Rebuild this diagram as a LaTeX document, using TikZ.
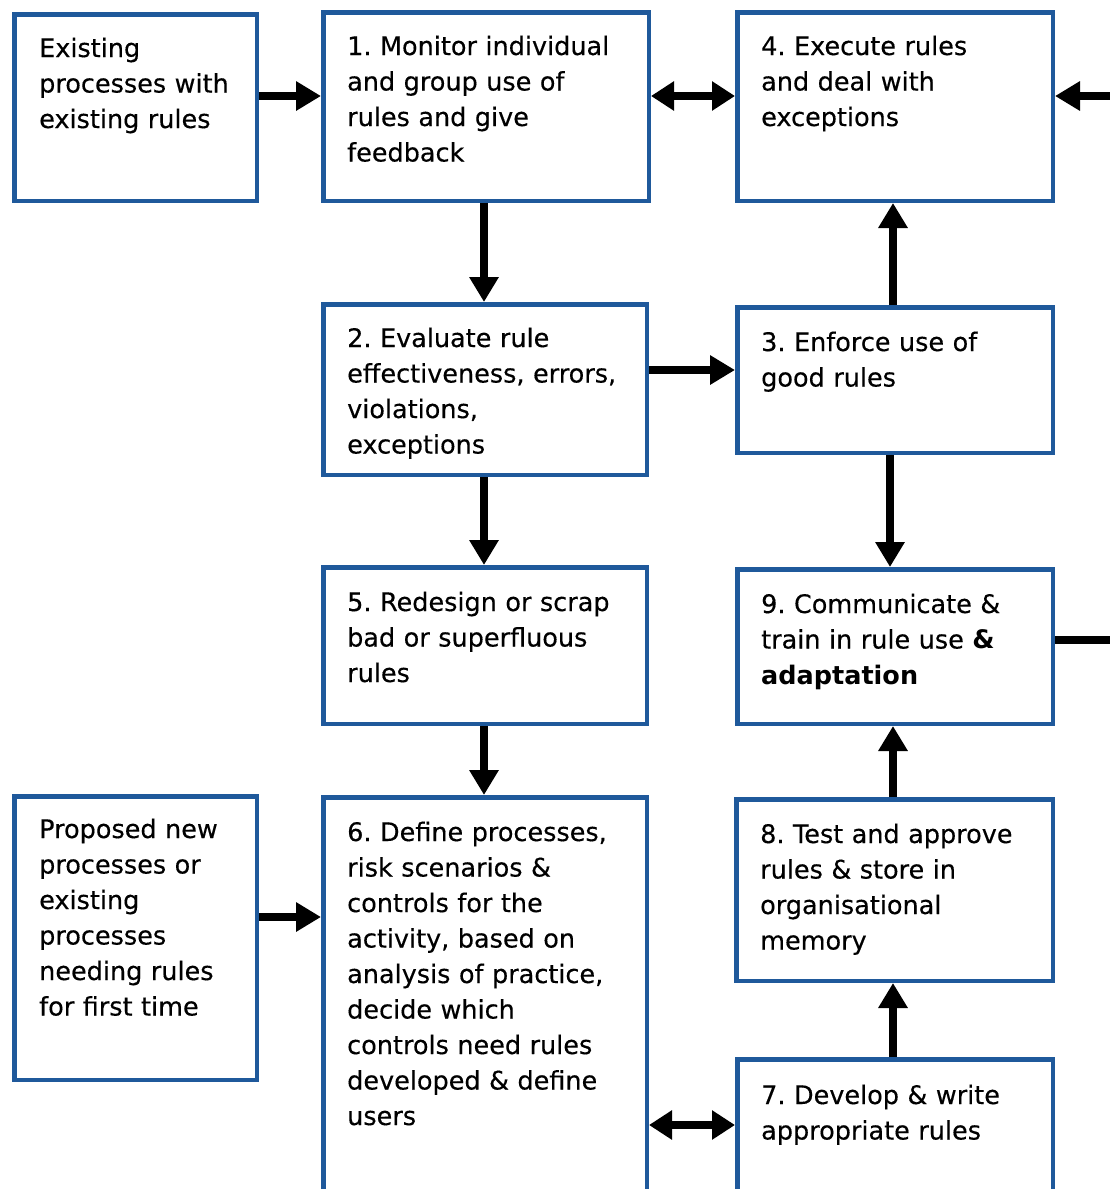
\documentclass[tikz,border=0pt]{standalone}
\usepackage{fontspec}
\setmainfont{DejaVu Sans}[UprightFeatures={FakeBold=0.35}]
\usetikzlibrary{arrows.meta}
\definecolor{boxblue}{RGB}{31,89,155}
\begin{document}
\frenchspacing
\begin{tikzpicture}[x=1pt,y=-1pt,
  box/.style={draw=boxblue, line width=4.5pt, fill=white, rectangle, anchor=north west, inner sep=0pt},
  txt/.style={anchor=base west, inner sep=0pt, text width=320pt, align=left, font=\fontsize{25.5}{35.5}\selectfont\frenchspacing},
  arr/.style={line width=8pt, -{Triangle[length=25pt,width=28pt]}},
  darr/.style={line width=8pt, {Triangle[length=23pt,width=28pt]}-{Triangle[length=23pt,width=28pt]}},
  ln/.style={line width=8pt}]
\clip (0,0) rectangle (1110,1189);
\fill[white] (0,0) rectangle (1110,1189);
% boxes (outer corner, size minus line width)
\node[box, minimum width=242.5pt, minimum height=186.5pt] (E) at (12,12) {};
\node[box, minimum width=325.5pt, minimum height=188.5pt] (b1) at (321,10) {};
\node[box, minimum width=315.5pt, minimum height=188.5pt] (b4) at (735,10) {};
\node[box, minimum width=323.5pt, minimum height=170.5pt] (b2) at (321,302) {};
\node[box, minimum width=315.5pt, minimum height=145.5pt] (b3) at (735,305) {};
\node[box, minimum width=323.5pt, minimum height=156.5pt] (b5) at (321,565) {};
\node[box, minimum width=315.5pt, minimum height=154.5pt] (b9) at (735,567) {};
\node[box, minimum width=242.5pt, minimum height=283.5pt] (P) at (12,794) {};
\node[box, minimum width=323.5pt, minimum height=450pt] (b6) at (321,795) {};
\node[box, minimum width=316.5pt, minimum height=181.5pt] (b8) at (734,797) {};
\node[box, minimum width=315.5pt, minimum height=200pt] (b7) at (735,1057) {};
% texts
\node[txt] (tE) at (39,57) {Existing\\processes with\\existing rules};
\node[txt] (t1) at (347,55) {1. Monitor individual\\and group use of\\rules and give\\feedback};
\node[txt] (t4) at (761,55) {4. Execute rules\\and deal with\\exceptions};
\node[txt] (t2) at (347,347) {2. Evaluate rule\\effectiveness, errors,\\violations,\\exceptions};
\node[txt] (t3) at (761,351) {3. Enforce use of\\good rules};
\node[txt] (t5) at (347,611) {5. Redesign or scrap\\bad or superfluous\\rules};
\node[txt] (t9) at (761,613) {9. Communicate \&\\train in rule use \textbf{\&}\\\textbf{adaptation}};
\node[txt] (tP) at (39,838) {Proposed new\\processes or\\existing\\processes\\needing rules\\for first time};
\node[txt] (t6) at (347,841) {6. Define processes,\\risk scenarios \&\\controls for the\\activity, based on\\analysis of practice,\\decide which\\controls need rules\\developed \& define\\users};
\node[txt] (t8) at (760,843) {8. Test and approve\\rules \& store in\\organisational\\memory};
\node[txt] (t7) at (761,1104) {7. Develop \& write\\appropriate rules};
% free ends on the right margin
\coordinate (in4) at (1112,96);
\coordinate (out9) at (1112,640);
% connectors
\draw[arr] (E.east |- 0,96) -- (b1.west |- 0,96);
\draw[darr] (b1.east |- 0,96) -- (b4.west |- 0,96);
\draw[arr] (in4) -- (b4.east |- in4);
\draw[arr] (b1.south -| 484,0) -- (b2.north -| 484,0);
\draw[arr] (b2.east |- 0,370) -- (b3.west |- 0,370);
\draw[arr] (b3.north -| 893,0) -- (b4.south -| 893,0);
\draw[arr] (b2.south -| 484,0) -- (b5.north -| 484,0);
\draw[arr] (b3.south -| 890,0) -- (b9.north -| 890,0);
\draw[ln] (b9.east |- out9) -- (out9);
\draw[arr] (b5.south -| 484,0) -- (b6.north -| 484,0);
\draw[arr] (P.east |- 0,917) -- (b6.west |- 0,917);
\draw[darr] (b6.east |- 0,1125) -- (b7.west |- 0,1125);
\draw[arr] (b7.north -| 893,0) -- (b8.south -| 893,0);
\draw[arr] (b8.north -| 893,0) -- (b9.south -| 893,0);
\end{tikzpicture}
\end{document}
